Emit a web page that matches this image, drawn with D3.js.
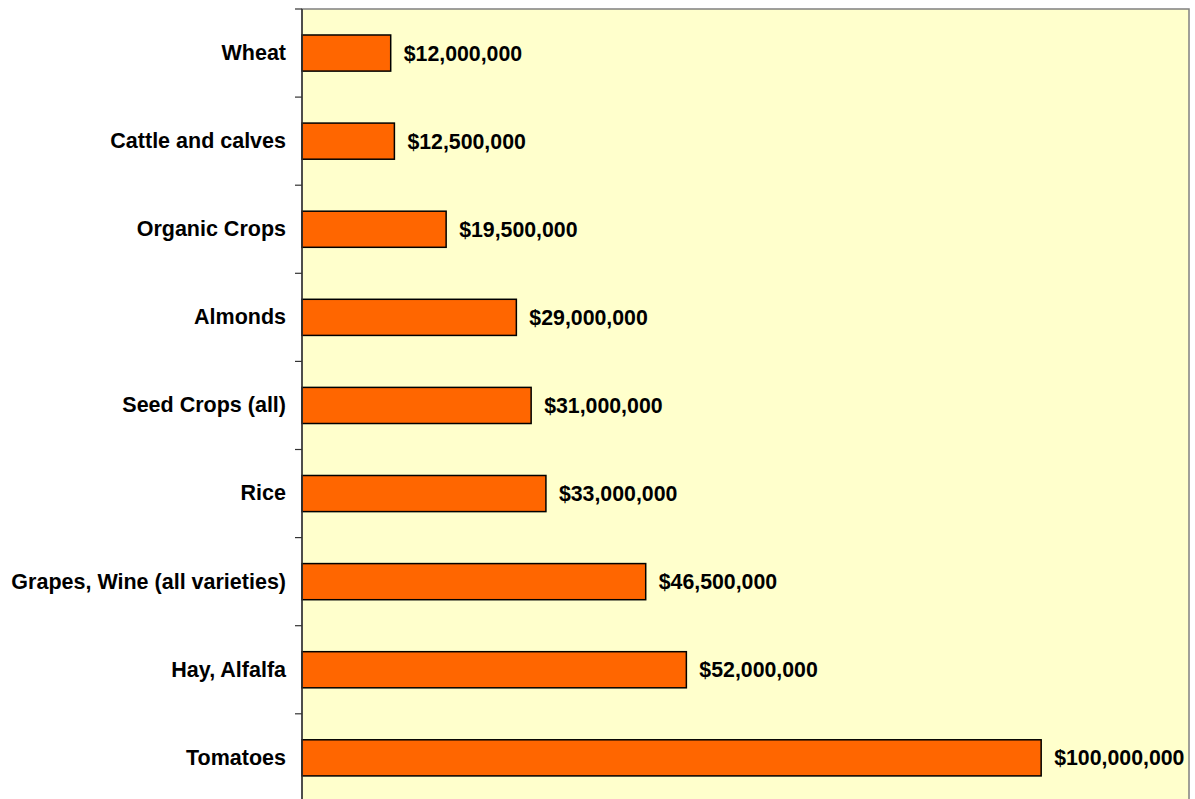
<!DOCTYPE html>
<html>
<head>
<meta charset="utf-8">
<script src="https://cdn.jsdelivr.net/npm/d3@7"></script>
<style>
  html, body { margin: 0; padding: 0; background: #ffffff; }
  svg { display: block; }
</style>
</head>
<body>
<svg id="chart" width="1195" height="799"></svg>
<script>
const categories = ["Wheat", "Cattle and calves", "Organic Crops", "Almonds", "Seed Crops (all)", "Rice", "Grapes, Wine (all varieties)", "Hay, Alfalfa", "Tomatoes"];
const values = [12000000, 12500000, 19500000, 29000000, 31000000, 33000000, 46500000, 52000000, 100000000];
const xDomainMax = 120000000;

const svg = d3.select("#chart");
const plot = { left: 302, right: 1189, top: 9, bottom: 9 + 9 * 88.1 };

const x = d3.scaleLinear().domain([0, xDomainMax]).range([plot.left, plot.right]);
const y = d3.scaleBand().domain(categories).range([plot.top, plot.bottom]).paddingInner(0).paddingOuter(0);
const barFrac = 0.41;
const bh = y.bandwidth() * barFrac;
const FONT = "Liberation Sans, Arial, sans-serif";

// plot area background
svg.append("rect")
  .attr("x", plot.left).attr("y", plot.top)
  .attr("width", plot.right - plot.left).attr("height", plot.bottom - plot.top)
  .attr("fill", "#ffffcc").attr("stroke", "#808080").attr("stroke-width", 1.5);

// bars
svg.append("g").selectAll("rect").data(categories).join("rect")
  .attr("x", x(0))
  .attr("y", (d) => y(d) + (y.bandwidth() - bh) / 2)
  .attr("width", (d, i) => x(values[i]) - x(0))
  .attr("height", bh)
  .attr("fill", "#ff6600")
  .attr("stroke", "#000000")
  .attr("stroke-width", 1.5);

// data labels
const fmt = d3.format("$,");
svg.append("g").selectAll("text").data(categories).join("text")
  .attr("x", (d, i) => x(values[i]) + 13)
  .attr("y", (d) => y(d) + y.bandwidth() / 2)
  .attr("dy", "0.35em")
  .attr("font-family", FONT)
  .attr("font-weight", "bold")
  .attr("font-size", "21.3px")
  .attr("fill", "#000")
  .text((d, i) => fmt(values[i]));

// category axis
const axis = d3.axisLeft(y).tickSize(0).tickPadding(16);
const gA = svg.append("g").attr("transform", `translate(${plot.left},0)`).call(axis);
gA.select(".domain").remove();
gA.selectAll("text")
  .attr("font-family", FONT)
  .attr("font-weight", "bold")
  .attr("font-size", "21.5px")
  .attr("fill", "#000");

// boundary ticks
const bounds = categories.map((c) => y(c)).concat([y(categories[categories.length - 1]) + y.step()]);
svg.append("g").selectAll("line").data(bounds).join("line")
  .attr("x1", plot.left - 7).attr("x2", plot.left)
  .attr("y1", (d) => d).attr("y2", (d) => d)
  .attr("stroke", "#333").attr("stroke-width", 1.2);

// axis line
svg.append("line")
  .attr("x1", plot.left).attr("x2", plot.left)
  .attr("y1", plot.top).attr("y2", plot.bottom)
  .attr("stroke", "#333").attr("stroke-width", 1.5);
</script>
</body>
</html>
